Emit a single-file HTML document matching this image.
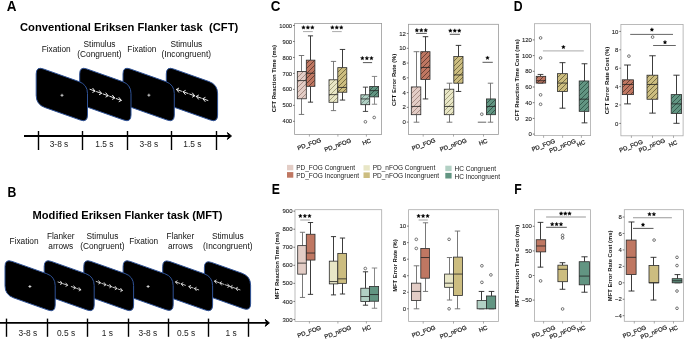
<!DOCTYPE html>
<html><head><meta charset="utf-8"><style>
html,body{margin:0;padding:0;background:#fff;}
body{width:685px;height:339px;overflow:hidden;}
svg{display:block;font-family:"Liberation Sans", sans-serif;will-change:transform;}
text{white-space:pre;}
</style></head><body>
<svg width="685" height="339" viewBox="0 0 685 339">
<defs><pattern id="h_fc" patternUnits="userSpaceOnUse" width="5.0" height="5.0"><rect width="5.0" height="5.0" fill="#e3cdc6"/><path d="M-1,1 L1,-1 M0,5.0 L5.0,0 M4.0,6.0 L6.0,4.0" stroke="#8a6a62" stroke-width="0.65"/></pattern><pattern id="h_fi" patternUnits="userSpaceOnUse" width="5.0" height="5.0"><rect width="5.0" height="5.0" fill="#bf7762"/><path d="M-1,1 L1,-1 M0,5.0 L5.0,0 M4.0,6.0 L6.0,4.0" stroke="#3e221a" stroke-width="0.65"/></pattern><pattern id="h_nc" patternUnits="userSpaceOnUse" width="5.0" height="5.0"><rect width="5.0" height="5.0" fill="#e8e6c6"/><path d="M-1,1 L1,-1 M0,5.0 L5.0,0 M4.0,6.0 L6.0,4.0" stroke="#7f7c56" stroke-width="0.65"/></pattern><pattern id="h_ni" patternUnits="userSpaceOnUse" width="5.0" height="5.0"><rect width="5.0" height="5.0" fill="#ccbd80"/><path d="M-1,1 L1,-1 M0,5.0 L5.0,0 M4.0,6.0 L6.0,4.0" stroke="#4a4220" stroke-width="0.65"/></pattern><pattern id="h_hc" patternUnits="userSpaceOnUse" width="5.0" height="5.0"><rect width="5.0" height="5.0" fill="#b2d0c4"/><path d="M-1,1 L1,-1 M0,5.0 L5.0,0 M4.0,6.0 L6.0,4.0" stroke="#5a7c70" stroke-width="0.65"/></pattern><pattern id="h_hi" patternUnits="userSpaceOnUse" width="5.0" height="5.0"><rect width="5.0" height="5.0" fill="#629582"/><path d="M-1,1 L1,-1 M0,5.0 L5.0,0 M4.0,6.0 L6.0,4.0" stroke="#1c3a30" stroke-width="0.65"/></pattern></defs>
<rect width="685" height="339" fill="#fff"/>
<text x="6.8" y="10.5" font-size="13.9" font-weight="bold" fill="#000" textLength="9.73" lengthAdjust="spacingAndGlyphs">A</text>
<text x="7.5" y="197.2" font-size="13.9" font-weight="bold" fill="#000" textLength="8.83" lengthAdjust="spacingAndGlyphs">B</text>
<text x="270.8" y="10.5" font-size="13.9" font-weight="bold" fill="#000" textLength="9.63" lengthAdjust="spacingAndGlyphs">C</text>
<text x="513.7" y="10.6" font-size="13.9" font-weight="bold" fill="#000" textLength="8.83" lengthAdjust="spacingAndGlyphs">D</text>
<text x="271.7" y="193.6" font-size="13.9" font-weight="bold" fill="#000" textLength="8.16" lengthAdjust="spacingAndGlyphs">E</text>
<text x="514.3" y="193.6" font-size="13.9" font-weight="bold" fill="#000" textLength="7.47" lengthAdjust="spacingAndGlyphs">F</text>
<text x="20.00" y="31.40" font-size="11.2" text-anchor="start" font-weight="bold" fill="#000" >Conventional Eriksen Flanker task&#160;&#160;(CFT)</text>
<text x="56.20" y="51.80" font-size="8.3" text-anchor="middle" font-weight="normal" fill="#111" >Fixation</text>
<text x="99.50" y="46.60" font-size="8.3" text-anchor="middle" font-weight="normal" fill="#111" >Stimulus</text>
<text x="99.50" y="57.00" font-size="8.3" text-anchor="middle" font-weight="normal" fill="#111" >(Congruent)</text>
<text x="141.90" y="51.80" font-size="8.3" text-anchor="middle" font-weight="normal" fill="#111" >Fixation</text>
<text x="186.30" y="46.60" font-size="8.3" text-anchor="middle" font-weight="normal" fill="#111" >Stimulus</text>
<text x="186.30" y="57.00" font-size="8.3" text-anchor="middle" font-weight="normal" fill="#111" >(Incongruent)</text>
<path d="M166.30,73.90 Q166.30,66.40 173.37,68.91 L209.12,81.60 Q217.60,84.61 217.60,93.61 L217.60,115.11 Q217.60,122.61 210.53,120.10 L174.78,107.41 Q166.30,104.40 166.30,95.40 Z" fill="#000" stroke="#2f5296" stroke-width="1.0"/>
<path d="M123.00,73.90 Q123.00,66.40 130.07,68.91 L165.82,81.60 Q174.30,84.61 174.30,93.61 L174.30,115.11 Q174.30,122.61 167.23,120.10 L131.48,107.41 Q123.00,104.40 123.00,95.40 Z" fill="#000" stroke="#2f5296" stroke-width="1.0"/>
<path d="M79.70,73.90 Q79.70,66.40 86.77,68.91 L122.52,81.60 Q131.00,84.61 131.00,93.61 L131.00,115.11 Q131.00,122.61 123.93,120.10 L88.18,107.41 Q79.70,104.40 79.70,95.40 Z" fill="#000" stroke="#2f5296" stroke-width="1.0"/>
<path d="M36.20,73.90 Q36.20,66.40 43.27,68.91 L79.02,81.60 Q87.50,84.61 87.50,93.61 L87.50,115.11 Q87.50,122.61 80.43,120.10 L44.68,107.41 Q36.20,104.40 36.20,95.40 Z" fill="#000" stroke="#2f5296" stroke-width="1.0"/>
<path d="M60.5,95.3 H63.5 M62.0,93.8 V96.8" stroke="#eee" stroke-width="0.8"/>
<g stroke="#f2f2f2" stroke-width="0.95" fill="none" stroke-linecap="round" stroke-linejoin="round"><path d="M90.00,89.31 L95.00,91.09 M92.80,88.31 L95.00,91.09 L92.80,92.31" /><path d="M96.57,91.64 L101.57,93.41 M99.37,90.63 L101.57,93.41 L99.37,94.63" /><path d="M103.14,93.97 L108.14,95.74 M105.94,92.96 L108.14,95.74 L105.94,96.96" /><path d="M109.71,96.29 L114.71,98.06 M112.51,95.28 L114.71,98.06 L112.51,99.28" /><path d="M116.28,98.62 L121.28,100.39 M119.08,97.61 L121.28,100.39 L119.08,101.61" /></g>
<path d="M147.4,95.2 H150.4 M148.9,93.7 V96.7" stroke="#eee" stroke-width="0.8"/>
<g stroke="#f2f2f2" stroke-width="0.95" fill="none" stroke-linecap="round" stroke-linejoin="round"><path d="M181.50,91.18 L176.50,89.42 M178.70,88.19 L176.50,89.42 L178.70,92.19" /><path d="M188.10,93.50 L183.10,91.74 M185.30,90.52 L183.10,91.74 L185.30,94.52" /><path d="M189.70,94.07 L194.70,95.83 M192.50,93.05 L194.70,95.83 L192.50,97.05" /><path d="M201.30,98.15 L196.30,96.39 M198.50,95.16 L196.30,96.39 L198.50,99.16" /><path d="M207.90,100.47 L202.90,98.71 M205.10,97.49 L202.90,98.71 L205.10,101.49" /></g>
<line x1="24.00" y1="136.00" x2="230.00" y2="136.00" stroke="#000" stroke-width="1.9" />
<path d="M231.50,136.00 L227.40,132.60 L228.80,136.00 L227.40,139.40 Z" fill="#000" stroke="#000" stroke-width="1.0" stroke-linejoin="round"/>
<line x1="38.50" y1="131.00" x2="38.50" y2="150.00" stroke="#000" stroke-width="1.4" />
<line x1="82.50" y1="131.00" x2="82.50" y2="150.00" stroke="#000" stroke-width="1.4" />
<line x1="127.50" y1="131.00" x2="127.50" y2="150.00" stroke="#000" stroke-width="1.4" />
<line x1="171.50" y1="131.00" x2="171.50" y2="150.00" stroke="#000" stroke-width="1.4" />
<line x1="216.50" y1="131.00" x2="216.50" y2="150.00" stroke="#000" stroke-width="1.4" />
<text x="59.00" y="146.70" font-size="8.4" text-anchor="middle" font-weight="normal" fill="#222" >3-8 s</text>
<text x="104.40" y="146.70" font-size="8.4" text-anchor="middle" font-weight="normal" fill="#222" >1.5 s</text>
<text x="148.90" y="146.70" font-size="8.4" text-anchor="middle" font-weight="normal" fill="#222" >3-8 s</text>
<text x="192.40" y="146.70" font-size="8.4" text-anchor="middle" font-weight="normal" fill="#222" >1.5 s</text>
<text x="32.60" y="219.20" font-size="11.1" text-anchor="start" font-weight="bold" fill="#000" >Modified Eriksen Flanker task (MFT)</text>
<text x="24.00" y="244.00" font-size="8.3" text-anchor="middle" font-weight="normal" fill="#111" >Fixation</text>
<text x="60.80" y="238.60" font-size="8.3" text-anchor="middle" font-weight="normal" fill="#111" >Flanker</text>
<text x="60.80" y="249.00" font-size="8.3" text-anchor="middle" font-weight="normal" fill="#111" >arrows</text>
<text x="102.40" y="238.60" font-size="8.3" text-anchor="middle" font-weight="normal" fill="#111" >Stimulus</text>
<text x="102.40" y="249.00" font-size="8.3" text-anchor="middle" font-weight="normal" fill="#111" >(Congruent)</text>
<text x="143.70" y="244.00" font-size="8.3" text-anchor="middle" font-weight="normal" fill="#111" >Fixation</text>
<text x="180.40" y="238.60" font-size="8.3" text-anchor="middle" font-weight="normal" fill="#111" >Flanker</text>
<text x="180.40" y="249.00" font-size="8.3" text-anchor="middle" font-weight="normal" fill="#111" >arrows</text>
<text x="227.80" y="238.60" font-size="8.3" text-anchor="middle" font-weight="normal" fill="#111" >Stimulus</text>
<text x="227.80" y="249.00" font-size="8.3" text-anchor="middle" font-weight="normal" fill="#111" >(Incongruent)</text>
<path d="M204.40,267.40 Q204.40,259.90 211.47,262.41 L242.12,273.29 Q250.60,276.30 250.60,285.30 L250.60,303.70 Q250.60,311.20 243.53,308.69 L212.88,297.81 Q204.40,294.80 204.40,285.80 Z" fill="#000" stroke="#2f5296" stroke-width="1.0"/>
<path d="M162.70,266.50 Q162.70,259.00 169.77,261.51 L204.12,273.70 Q212.60,276.71 212.60,285.71 L212.60,305.11 Q212.60,312.61 205.53,310.11 L171.18,297.91 Q162.70,294.90 162.70,285.90 Z" fill="#000" stroke="#2f5296" stroke-width="1.0"/>
<path d="M123.10,266.40 Q123.10,258.90 130.17,261.41 L164.72,273.67 Q173.20,276.69 173.20,285.69 L173.20,304.79 Q173.20,312.29 166.13,309.78 L131.58,297.51 Q123.10,294.50 123.10,285.50 Z" fill="#000" stroke="#2f5296" stroke-width="1.0"/>
<path d="M83.80,266.40 Q83.80,258.90 90.87,261.41 L125.12,273.57 Q133.60,276.58 133.60,285.58 L133.60,304.98 Q133.60,312.48 126.53,309.97 L92.28,297.81 Q83.80,294.80 83.80,285.80 Z" fill="#000" stroke="#2f5296" stroke-width="1.0"/>
<path d="M44.20,266.40 Q44.20,258.90 51.27,261.41 L85.72,273.64 Q94.20,276.65 94.20,285.65 L94.20,305.05 Q94.20,312.55 87.13,310.04 L52.68,297.81 Q44.20,294.80 44.20,285.80 Z" fill="#000" stroke="#2f5296" stroke-width="1.0"/>
<path d="M5.00,266.40 Q5.00,258.90 12.07,261.41 L46.72,273.71 Q55.20,276.72 55.20,285.72 L55.20,305.12 Q55.20,312.62 48.13,310.11 L13.48,297.81 Q5.00,294.80 5.00,285.80 Z" fill="#000" stroke="#2f5296" stroke-width="1.0"/>
<path d="M28.4,286.5 H31.4 M29.9,285.0 V288.0" stroke="#eee" stroke-width="0.8"/>
<g stroke="#f2f2f2" stroke-width="0.8" fill="none" stroke-linecap="round" stroke-linejoin="round"><path d="M58.00,281.98 L62.20,283.42 M60.50,281.24 L62.20,283.42 L60.50,284.44" /><path d="M63.40,283.84 L67.60,285.29 M65.90,283.10 L67.60,285.29 L65.90,286.30" /><path d="M71.30,286.56 L75.50,288.01 M73.80,285.83 L75.50,288.01 L73.80,289.03" /><path d="M76.60,288.39 L80.80,289.84 M79.10,287.65 L80.80,289.84 L79.10,290.85" /></g>
<g stroke="#f2f2f2" stroke-width="0.8" fill="none" stroke-linecap="round" stroke-linejoin="round"><path d="M96.20,281.48 L100.40,282.92 M98.70,280.74 L100.40,282.92 L98.70,283.94" /><path d="M101.70,283.37 L105.90,284.82 M104.20,282.64 L105.90,284.82 L104.20,285.84" /><path d="M107.20,285.27 L111.40,286.72 M109.70,284.53 L111.40,286.72 L109.70,287.73" /><path d="M112.70,287.17 L116.90,288.62 M115.20,286.43 L116.90,288.62 L115.20,289.63" /><path d="M118.20,289.07 L122.40,290.51 M120.70,288.33 L122.40,290.51 L120.70,291.53" /></g>
<path d="M146.6,286.5 H149.6 M148.1,285.0 V288.0" stroke="#eee" stroke-width="0.8"/>
<g stroke="#f2f2f2" stroke-width="0.8" fill="none" stroke-linecap="round" stroke-linejoin="round"><path d="M179.70,283.32 L175.50,281.88 M177.20,280.86 L175.50,281.88 L177.20,284.06" /><path d="M185.40,285.29 L181.20,283.84 M182.90,282.83 L181.20,283.84 L182.90,286.03" /><path d="M193.10,287.95 L188.90,286.50 M190.60,285.49 L188.90,286.50 L190.60,288.69" /><path d="M198.70,289.88 L194.50,288.43 M196.20,287.42 L194.50,288.43 L196.20,290.62" /></g>
<g stroke="#f2f2f2" stroke-width="0.8" fill="none" stroke-linecap="round" stroke-linejoin="round"><path d="M218.70,282.52 L214.50,281.08 M216.20,280.06 L214.50,281.08 L216.20,283.26" /><path d="M224.00,284.35 L219.80,282.90 M221.50,281.89 L219.80,282.90 L221.50,285.09" /><path d="M225.30,284.80 L229.50,286.25 M227.80,284.06 L229.50,286.25 L227.80,287.26" /><path d="M234.70,288.04 L230.50,286.60 M232.20,285.58 L230.50,286.60 L232.20,288.78" /><path d="M240.00,289.87 L235.80,288.42 M237.50,287.41 L235.80,288.42 L237.50,290.61" /></g>
<line x1="0.00" y1="322.90" x2="267.90" y2="322.90" stroke="#000" stroke-width="1.9" />
<path d="M269.40,322.90 L265.30,319.50 L266.70,322.90 L265.30,326.30 Z" fill="#000" stroke="#000" stroke-width="1.0" stroke-linejoin="round"/>
<line x1="6.50" y1="318.60" x2="6.50" y2="336.80" stroke="#000" stroke-width="1.4" />
<line x1="47.50" y1="318.60" x2="47.50" y2="336.80" stroke="#000" stroke-width="1.4" />
<line x1="87.50" y1="318.60" x2="87.50" y2="336.80" stroke="#000" stroke-width="1.4" />
<line x1="128.50" y1="318.60" x2="128.50" y2="336.80" stroke="#000" stroke-width="1.4" />
<line x1="168.50" y1="318.60" x2="168.50" y2="336.80" stroke="#000" stroke-width="1.4" />
<line x1="208.50" y1="318.60" x2="208.50" y2="336.80" stroke="#000" stroke-width="1.4" />
<line x1="248.50" y1="318.60" x2="248.50" y2="336.80" stroke="#000" stroke-width="1.4" />
<text x="27.80" y="336.20" font-size="8.4" text-anchor="middle" font-weight="normal" fill="#222" >3-8 s</text>
<text x="66.00" y="336.20" font-size="8.4" text-anchor="middle" font-weight="normal" fill="#222" >0.5 s</text>
<text x="107.40" y="336.20" font-size="8.4" text-anchor="middle" font-weight="normal" fill="#222" >1 s</text>
<text x="147.90" y="336.20" font-size="8.4" text-anchor="middle" font-weight="normal" fill="#222" >3-8 s</text>
<text x="186.10" y="336.20" font-size="8.4" text-anchor="middle" font-weight="normal" fill="#222" >0.5 s</text>
<text x="231.10" y="336.20" font-size="8.4" text-anchor="middle" font-weight="normal" fill="#222" >1 s</text>
<rect x="294.6" y="23.4" width="87.0" height="111.0" fill="none" stroke="#999" stroke-width="0.8"/>
<line x1="293.00" y1="121.31" x2="294.60" y2="121.31" stroke="#555" stroke-width="0.8" />
<text x="292.10" y="123.41" font-size="5.8" text-anchor="end" fill="#222" stroke="#222" stroke-width="0.1">400</text>
<line x1="293.00" y1="105.34" x2="294.60" y2="105.34" stroke="#555" stroke-width="0.8" />
<text x="292.10" y="107.44" font-size="5.8" text-anchor="end" fill="#222" stroke="#222" stroke-width="0.1">500</text>
<line x1="293.00" y1="89.37" x2="294.60" y2="89.37" stroke="#555" stroke-width="0.8" />
<text x="292.10" y="91.47" font-size="5.8" text-anchor="end" fill="#222" stroke="#222" stroke-width="0.1">600</text>
<line x1="293.00" y1="73.40" x2="294.60" y2="73.40" stroke="#555" stroke-width="0.8" />
<text x="292.10" y="75.50" font-size="5.8" text-anchor="end" fill="#222" stroke="#222" stroke-width="0.1">700</text>
<line x1="293.00" y1="57.43" x2="294.60" y2="57.43" stroke="#555" stroke-width="0.8" />
<text x="292.10" y="59.53" font-size="5.8" text-anchor="end" fill="#222" stroke="#222" stroke-width="0.1">800</text>
<line x1="293.00" y1="41.46" x2="294.60" y2="41.46" stroke="#555" stroke-width="0.8" />
<text x="292.10" y="43.56" font-size="5.8" text-anchor="end" fill="#222" stroke="#222" stroke-width="0.1">900</text>
<line x1="293.00" y1="25.49" x2="294.60" y2="25.49" stroke="#555" stroke-width="0.8" />
<text x="292.10" y="27.59" font-size="5.8" text-anchor="end" fill="#222" stroke="#222" stroke-width="0.1">1000</text>
<text x="275.61" y="78.65" font-size="5.85" text-anchor="middle" font-weight="bold" fill="#111" transform="rotate(-90 275.61 78.65)" textLength="67.1" lengthAdjust="spacingAndGlyphs">CFT Reaction Time (ms)</text>
<path d="M301.50,55.51 V71.48 M301.50,98.79 V114.44 M298.80,55.51 H304.20 M298.80,114.44 H304.20" stroke="#6a6a6a" stroke-width="0.9" fill="none"/>
<rect x="297.30" y="71.48" width="9.00" height="27.31" fill="url(#h_fc)" stroke="#2b2b2b" stroke-width="0.8"/>
<line x1="297.30" y1="80.59" x2="306.30" y2="80.59" stroke="#222" stroke-width="0.8" />
<path d="M310.50,35.87 V60.14 M310.50,86.34 V102.15 M307.92,35.87 H313.08 M307.92,102.15 H313.08" stroke="#262626" stroke-width="0.9" fill="none"/>
<rect x="306.30" y="60.14" width="8.60" height="26.19" fill="url(#h_fi)" stroke="#2b2b2b" stroke-width="0.8"/>
<line x1="306.30" y1="73.24" x2="314.90" y2="73.24" stroke="#222" stroke-width="0.8" />
<path d="M333.50,61.42 V79.79 M333.50,102.31 V110.61 M330.86,61.42 H336.14 M330.86,110.61 H336.14" stroke="#6a6a6a" stroke-width="0.9" fill="none"/>
<rect x="329.00" y="79.79" width="8.80" height="22.52" fill="url(#h_nc)" stroke="#2b2b2b" stroke-width="0.8"/>
<line x1="329.00" y1="94.64" x2="337.80" y2="94.64" stroke="#222" stroke-width="0.8" />
<path d="M342.50,49.45 V67.65 M342.50,92.24 V100.07 M339.80,49.45 H345.20 M339.80,100.07 H345.20" stroke="#262626" stroke-width="0.9" fill="none"/>
<rect x="337.80" y="67.65" width="9.00" height="24.59" fill="url(#h_ni)" stroke="#2b2b2b" stroke-width="0.8"/>
<line x1="337.80" y1="87.45" x2="346.80" y2="87.45" stroke="#222" stroke-width="0.8" />
<path d="M365.50,87.13 V94.80 M365.50,104.70 V111.41 M362.86,87.13 H368.14 M362.86,111.41 H368.14" stroke="#333" stroke-width="0.9" fill="none"/>
<rect x="360.90" y="94.80" width="8.80" height="9.90" fill="url(#h_hc)" stroke="#2b2b2b" stroke-width="0.8"/>
<line x1="360.90" y1="98.95" x2="369.70" y2="98.95" stroke="#222" stroke-width="0.8" />
<path d="M374.50,76.43 V86.50 M374.50,96.88 V104.22 M371.83,76.43 H377.17 M371.83,104.22 H377.17" stroke="#7a7a7a" stroke-width="0.9" fill="none"/>
<rect x="369.70" y="86.50" width="8.90" height="10.38" fill="url(#h_hi)" stroke="#2b2b2b" stroke-width="0.8"/>
<line x1="369.70" y1="90.65" x2="378.60" y2="90.65" stroke="#222" stroke-width="0.8" />
<circle cx="365.40" cy="121.80" r="1.35" fill="none" stroke="#333" stroke-width="0.65"/>
<circle cx="374.20" cy="117.50" r="1.35" fill="none" stroke="#333" stroke-width="0.65"/>
<line x1="303.00" y1="31.60" x2="312.80" y2="31.60" stroke="#a0a0a0" stroke-width="0.9" />
<polygon points="303.45,25.55 304.01,26.73 305.30,26.90 304.35,27.79 304.60,29.08 303.45,28.45 302.30,29.08 302.55,27.79 301.60,26.90 302.89,26.73" fill="#000" stroke="#000" stroke-width="0.35" stroke-linejoin="round"/>
<polygon points="307.90,25.55 308.46,26.73 309.75,26.90 308.80,27.79 309.05,29.08 307.90,28.45 306.75,29.08 307.00,27.79 306.05,26.90 307.34,26.73" fill="#000" stroke="#000" stroke-width="0.35" stroke-linejoin="round"/>
<polygon points="312.35,25.55 312.91,26.73 314.20,26.90 313.25,27.79 313.50,29.08 312.35,28.45 311.20,29.08 311.45,27.79 310.50,26.90 311.79,26.73" fill="#000" stroke="#000" stroke-width="0.35" stroke-linejoin="round"/>
<line x1="332.10" y1="31.60" x2="341.70" y2="31.60" stroke="#a0a0a0" stroke-width="0.9" />
<polygon points="332.35,25.55 332.91,26.73 334.20,26.90 333.25,27.79 333.50,29.08 332.35,28.45 331.20,29.08 331.45,27.79 330.50,26.90 331.79,26.73" fill="#000" stroke="#000" stroke-width="0.35" stroke-linejoin="round"/>
<polygon points="336.80,25.55 337.36,26.73 338.65,26.90 337.70,27.79 337.95,29.08 336.80,28.45 335.65,29.08 335.90,27.79 334.95,26.90 336.24,26.73" fill="#000" stroke="#000" stroke-width="0.35" stroke-linejoin="round"/>
<polygon points="341.25,25.55 341.81,26.73 343.10,26.90 342.15,27.79 342.40,29.08 341.25,28.45 340.10,29.08 340.35,27.79 339.40,26.90 340.69,26.73" fill="#000" stroke="#000" stroke-width="0.35" stroke-linejoin="round"/>
<line x1="362.90" y1="62.60" x2="372.10" y2="62.60" stroke="#444" stroke-width="0.9" />
<polygon points="362.35,56.25 362.91,57.43 364.20,57.60 363.25,58.49 363.50,59.78 362.35,59.15 361.20,59.78 361.45,58.49 360.50,57.60 361.79,57.43" fill="#000" stroke="#000" stroke-width="0.35" stroke-linejoin="round"/>
<polygon points="366.90,56.25 367.46,57.43 368.75,57.60 367.80,58.49 368.05,59.78 366.90,59.15 365.75,59.78 366.00,58.49 365.05,57.60 366.34,57.43" fill="#000" stroke="#000" stroke-width="0.35" stroke-linejoin="round"/>
<polygon points="371.45,56.25 372.01,57.43 373.30,57.60 372.35,58.49 372.60,59.78 371.45,59.15 370.30,59.78 370.55,58.49 369.60,57.60 370.89,57.43" fill="#000" stroke="#000" stroke-width="0.35" stroke-linejoin="round"/>
<line x1="309.40" y1="134.40" x2="309.40" y2="136.60" stroke="#888" stroke-width="0.7" />
<line x1="337.90" y1="134.40" x2="337.90" y2="136.60" stroke="#888" stroke-width="0.7" />
<line x1="366.40" y1="134.40" x2="366.40" y2="136.60" stroke="#888" stroke-width="0.7" />
<text x="309.94" y="146.03" font-size="6.0" text-anchor="middle" fill="#222" stroke="#222" stroke-width="0.22" transform="rotate(-20 309.94 146.03)">PD_FOG</text>
<text x="338.44" y="147.03" font-size="6.0" text-anchor="middle" fill="#222" stroke="#222" stroke-width="0.22" transform="rotate(-20 338.44 147.03)">PD_nFOG</text>
<text x="367.24" y="143.83" font-size="6.0" text-anchor="middle" fill="#222" stroke="#222" stroke-width="0.22" transform="rotate(-20 367.24 143.83)">HC</text>
<rect x="408.4" y="24.3" width="90.10000000000002" height="110.10000000000001" fill="none" stroke="#999" stroke-width="0.8"/>
<line x1="406.80" y1="122.10" x2="408.40" y2="122.10" stroke="#555" stroke-width="0.8" />
<text x="405.90" y="124.20" font-size="6.0" text-anchor="end" fill="#222" stroke="#222" stroke-width="0.1">0</text>
<line x1="406.80" y1="107.34" x2="408.40" y2="107.34" stroke="#555" stroke-width="0.8" />
<text x="405.90" y="109.44" font-size="6.0" text-anchor="end" fill="#222" stroke="#222" stroke-width="0.1">2</text>
<line x1="406.80" y1="92.58" x2="408.40" y2="92.58" stroke="#555" stroke-width="0.8" />
<text x="405.90" y="94.68" font-size="6.0" text-anchor="end" fill="#222" stroke="#222" stroke-width="0.1">4</text>
<line x1="406.80" y1="77.82" x2="408.40" y2="77.82" stroke="#555" stroke-width="0.8" />
<text x="405.90" y="79.92" font-size="6.0" text-anchor="end" fill="#222" stroke="#222" stroke-width="0.1">6</text>
<line x1="406.80" y1="63.06" x2="408.40" y2="63.06" stroke="#555" stroke-width="0.8" />
<text x="405.90" y="65.16" font-size="6.0" text-anchor="end" fill="#222" stroke="#222" stroke-width="0.1">8</text>
<line x1="406.80" y1="48.30" x2="408.40" y2="48.30" stroke="#555" stroke-width="0.8" />
<text x="405.90" y="50.40" font-size="6.0" text-anchor="end" fill="#222" stroke="#222" stroke-width="0.1">10</text>
<line x1="406.80" y1="33.54" x2="408.40" y2="33.54" stroke="#555" stroke-width="0.8" />
<text x="405.90" y="35.64" font-size="6.0" text-anchor="end" fill="#222" stroke="#222" stroke-width="0.1">12</text>
<text x="396.21" y="79.85" font-size="5.85" text-anchor="middle" font-weight="bold" fill="#111" transform="rotate(-90 396.21 79.85)" textLength="52.1" lengthAdjust="spacingAndGlyphs">CFT Error Rate (%)</text>
<path d="M416.50,51.70 V86.95 M416.50,114.70 V122.20 M413.65,51.70 H419.35 M413.65,122.20 H419.35" stroke="#6a6a6a" stroke-width="0.9" fill="none"/>
<rect x="411.30" y="86.95" width="9.50" height="27.75" fill="url(#h_fc)" stroke="#2b2b2b" stroke-width="0.8"/>
<line x1="411.30" y1="106.45" x2="420.80" y2="106.45" stroke="#222" stroke-width="0.8" />
<path d="M425.50,36.70 V51.70 M425.50,79.45 V98.95 M422.74,36.70 H428.26 M422.74,98.95 H428.26" stroke="#262626" stroke-width="0.9" fill="none"/>
<rect x="420.80" y="51.70" width="9.20" height="27.75" fill="url(#h_fi)" stroke="#2b2b2b" stroke-width="0.8"/>
<line x1="420.80" y1="67.45" x2="430.00" y2="67.45" stroke="#222" stroke-width="0.8" />
<path d="M449.50,83.20 V89.20 M449.50,114.70 V122.20 M446.65,83.20 H452.35 M446.65,122.20 H452.35" stroke="#6a6a6a" stroke-width="0.9" fill="none"/>
<rect x="444.30" y="89.20" width="9.50" height="25.50" fill="url(#h_nc)" stroke="#2b2b2b" stroke-width="0.8"/>
<line x1="444.30" y1="106.45" x2="453.80" y2="106.45" stroke="#222" stroke-width="0.8" />
<path d="M458.50,45.40 V56.58 M458.50,83.20 V91.45 M455.74,45.40 H461.26 M455.74,91.45 H461.26" stroke="#262626" stroke-width="0.9" fill="none"/>
<rect x="453.80" y="56.58" width="9.20" height="26.62" fill="url(#h_ni)" stroke="#2b2b2b" stroke-width="0.8"/>
<line x1="453.80" y1="74.95" x2="463.00" y2="74.95" stroke="#222" stroke-width="0.8" />
<line x1="477.80" y1="122.20" x2="486.20" y2="122.20" stroke="#555" stroke-width="0.9" />
<path d="M490.50,83.20 V98.95 M490.50,114.70 V122.20 M487.77,83.20 H493.23 M487.77,122.20 H493.23" stroke="#6a6a6a" stroke-width="0.9" fill="none"/>
<rect x="486.40" y="98.95" width="9.10" height="15.75" fill="url(#h_hi)" stroke="#2b2b2b" stroke-width="0.8"/>
<line x1="486.40" y1="106.45" x2="495.50" y2="106.45" stroke="#222" stroke-width="0.8" />
<circle cx="481.80" cy="114.20" r="1.35" fill="none" stroke="#333" stroke-width="0.65"/>
<line x1="416.00" y1="33.40" x2="426.80" y2="33.40" stroke="#444" stroke-width="0.9" />
<polygon points="416.85,28.35 417.41,29.53 418.70,29.70 417.75,30.59 418.00,31.88 416.85,31.25 415.70,31.88 415.95,30.59 415.00,29.70 416.29,29.53" fill="#000" stroke="#000" stroke-width="0.35" stroke-linejoin="round"/>
<polygon points="421.30,28.35 421.86,29.53 423.15,29.70 422.20,30.59 422.45,31.88 421.30,31.25 420.15,31.88 420.40,30.59 419.45,29.70 420.74,29.53" fill="#000" stroke="#000" stroke-width="0.35" stroke-linejoin="round"/>
<polygon points="425.75,28.35 426.31,29.53 427.60,29.70 426.65,30.59 426.90,31.88 425.75,31.25 424.60,31.88 424.85,30.59 423.90,29.70 425.19,29.53" fill="#000" stroke="#000" stroke-width="0.35" stroke-linejoin="round"/>
<line x1="449.80" y1="34.30" x2="459.90" y2="34.30" stroke="#444" stroke-width="0.9" />
<polygon points="450.35,28.75 450.91,29.93 452.20,30.10 451.25,30.99 451.50,32.28 450.35,31.65 449.20,32.28 449.45,30.99 448.50,30.10 449.79,29.93" fill="#000" stroke="#000" stroke-width="0.35" stroke-linejoin="round"/>
<polygon points="454.80,28.75 455.36,29.93 456.65,30.10 455.70,30.99 455.95,32.28 454.80,31.65 453.65,32.28 453.90,30.99 452.95,30.10 454.24,29.93" fill="#000" stroke="#000" stroke-width="0.35" stroke-linejoin="round"/>
<polygon points="459.25,28.75 459.81,29.93 461.10,30.10 460.15,30.99 460.40,32.28 459.25,31.65 458.10,32.28 458.35,30.99 457.40,30.10 458.69,29.93" fill="#000" stroke="#000" stroke-width="0.35" stroke-linejoin="round"/>
<line x1="482.50" y1="62.30" x2="492.80" y2="62.30" stroke="#444" stroke-width="0.9" />
<polygon points="487.50,55.95 488.06,57.13 489.35,57.30 488.40,58.19 488.65,59.48 487.50,58.85 486.35,59.48 486.60,58.19 485.65,57.30 486.94,57.13" fill="#000" stroke="#000" stroke-width="0.35" stroke-linejoin="round"/>
<line x1="423.20" y1="134.40" x2="423.20" y2="136.60" stroke="#888" stroke-width="0.7" />
<line x1="453.50" y1="134.40" x2="453.50" y2="136.60" stroke="#888" stroke-width="0.7" />
<line x1="483.50" y1="134.40" x2="483.50" y2="136.60" stroke="#888" stroke-width="0.7" />
<text x="424.34" y="146.23" font-size="6.0" text-anchor="middle" fill="#222" stroke="#222" stroke-width="0.22" transform="rotate(-20 424.34 146.23)">PD_FOG</text>
<text x="453.94" y="146.83" font-size="6.0" text-anchor="middle" fill="#222" stroke="#222" stroke-width="0.22" transform="rotate(-20 453.94 146.83)">PD_nFOG</text>
<text x="483.84" y="144.03" font-size="6.0" text-anchor="middle" fill="#222" stroke="#222" stroke-width="0.22" transform="rotate(-20 483.84 144.03)">HC</text>
<rect x="534.4" y="23.7" width="56.200000000000045" height="111.89999999999999" fill="none" stroke="#aaa" stroke-width="0.8"/>
<line x1="532.80" y1="134.10" x2="534.40" y2="134.10" stroke="#555" stroke-width="0.8" />
<text x="531.90" y="136.20" font-size="6.0" text-anchor="end" fill="#222" stroke="#222" stroke-width="0.1">0</text>
<line x1="532.80" y1="118.40" x2="534.40" y2="118.40" stroke="#555" stroke-width="0.8" />
<text x="531.90" y="120.50" font-size="6.0" text-anchor="end" fill="#222" stroke="#222" stroke-width="0.1">20</text>
<line x1="532.80" y1="102.70" x2="534.40" y2="102.70" stroke="#555" stroke-width="0.8" />
<text x="531.90" y="104.80" font-size="6.0" text-anchor="end" fill="#222" stroke="#222" stroke-width="0.1">40</text>
<line x1="532.80" y1="87.00" x2="534.40" y2="87.00" stroke="#555" stroke-width="0.8" />
<text x="531.90" y="89.10" font-size="6.0" text-anchor="end" fill="#222" stroke="#222" stroke-width="0.1">60</text>
<line x1="532.80" y1="71.30" x2="534.40" y2="71.30" stroke="#555" stroke-width="0.8" />
<text x="531.90" y="73.40" font-size="6.0" text-anchor="end" fill="#222" stroke="#222" stroke-width="0.1">80</text>
<line x1="532.80" y1="55.60" x2="534.40" y2="55.60" stroke="#555" stroke-width="0.8" />
<text x="531.90" y="57.70" font-size="6.0" text-anchor="end" fill="#222" stroke="#222" stroke-width="0.1">100</text>
<line x1="532.80" y1="39.90" x2="534.40" y2="39.90" stroke="#555" stroke-width="0.8" />
<text x="531.90" y="42.00" font-size="6.0" text-anchor="end" fill="#222" stroke="#222" stroke-width="0.1">120</text>
<text x="518.81" y="80.10" font-size="5.85" text-anchor="middle" font-weight="bold" fill="#111" transform="rotate(-90 518.81 80.10)" textLength="81.4" lengthAdjust="spacingAndGlyphs">CFT Reaction Time Cost (ms)</text>
<path d="M540.50,74.44 V76.32 M540.50,83.07 V83.07 M537.65,74.44 H543.35 M537.65,83.07 H543.35" stroke="#333" stroke-width="0.9" fill="none"/>
<rect x="536.20" y="76.32" width="9.50" height="6.75" fill="url(#h_fi)" stroke="#2b2b2b" stroke-width="0.8"/>
<line x1="536.20" y1="80.72" x2="545.70" y2="80.72" stroke="#222" stroke-width="0.8" />
<path d="M562.50,62.66 V73.66 M562.50,91.40 V108.19 M559.53,62.66 H565.47 M559.53,108.19 H565.47" stroke="#262626" stroke-width="0.9" fill="none"/>
<rect x="557.50" y="73.66" width="9.90" height="17.74" fill="url(#h_ni)" stroke="#2b2b2b" stroke-width="0.8"/>
<line x1="557.50" y1="83.07" x2="567.40" y2="83.07" stroke="#222" stroke-width="0.8" />
<path d="M584.50,63.76 V80.96 M584.50,111.33 V122.87 M581.59,63.76 H587.41 M581.59,122.87 H587.41" stroke="#262626" stroke-width="0.9" fill="none"/>
<rect x="579.20" y="80.96" width="9.70" height="30.38" fill="url(#h_hi)" stroke="#2b2b2b" stroke-width="0.8"/>
<line x1="579.20" y1="99.17" x2="588.90" y2="99.17" stroke="#222" stroke-width="0.8" />
<circle cx="540.60" cy="37.94" r="1.35" fill="none" stroke="#333" stroke-width="0.65"/>
<circle cx="540.60" cy="57.95" r="1.35" fill="none" stroke="#333" stroke-width="0.65"/>
<circle cx="540.60" cy="94.85" r="1.35" fill="none" stroke="#333" stroke-width="0.65"/>
<circle cx="540.60" cy="104.27" r="1.35" fill="none" stroke="#333" stroke-width="0.65"/>
<line x1="542.90" y1="50.90" x2="583.80" y2="50.90" stroke="#bbb" stroke-width="1.4" />
<polygon points="563.40,45.15 563.96,46.33 565.25,46.50 564.30,47.39 564.55,48.68 563.40,48.05 562.25,48.68 562.50,47.39 561.55,46.50 562.84,46.33" fill="#000" stroke="#000" stroke-width="0.35" stroke-linejoin="round"/>
<line x1="543.60" y1="135.60" x2="543.60" y2="137.80" stroke="#888" stroke-width="0.7" />
<line x1="562.60" y1="135.60" x2="562.60" y2="137.80" stroke="#888" stroke-width="0.7" />
<line x1="581.40" y1="135.60" x2="581.40" y2="137.80" stroke="#888" stroke-width="0.7" />
<text x="544.11" y="147.00" font-size="6.0" text-anchor="middle" fill="#222" stroke="#222" stroke-width="0.22" transform="rotate(-22 544.11 147.00)">PD_FOG</text>
<text x="563.31" y="147.70" font-size="6.0" text-anchor="middle" fill="#222" stroke="#222" stroke-width="0.22" transform="rotate(-22 563.31 147.70)">PD_nFOG</text>
<text x="581.81" y="145.30" font-size="6.0" text-anchor="middle" fill="#222" stroke="#222" stroke-width="0.22" transform="rotate(-22 581.81 145.30)">HC</text>
<rect x="620.9" y="24.5" width="62.200000000000045" height="111.30000000000001" fill="none" stroke="#aaa" stroke-width="0.8"/>
<line x1="619.30" y1="123.40" x2="620.90" y2="123.40" stroke="#555" stroke-width="0.8" />
<text x="618.40" y="125.50" font-size="6.0" text-anchor="end" fill="#222" stroke="#222" stroke-width="0.1">0</text>
<line x1="619.30" y1="105.00" x2="620.90" y2="105.00" stroke="#555" stroke-width="0.8" />
<text x="618.40" y="107.10" font-size="6.0" text-anchor="end" fill="#222" stroke="#222" stroke-width="0.1">2</text>
<line x1="619.30" y1="86.60" x2="620.90" y2="86.60" stroke="#555" stroke-width="0.8" />
<text x="618.40" y="88.70" font-size="6.0" text-anchor="end" fill="#222" stroke="#222" stroke-width="0.1">4</text>
<line x1="619.30" y1="68.20" x2="620.90" y2="68.20" stroke="#555" stroke-width="0.8" />
<text x="618.40" y="70.30" font-size="6.0" text-anchor="end" fill="#222" stroke="#222" stroke-width="0.1">6</text>
<line x1="619.30" y1="49.80" x2="620.90" y2="49.80" stroke="#555" stroke-width="0.8" />
<text x="618.40" y="51.90" font-size="6.0" text-anchor="end" fill="#222" stroke="#222" stroke-width="0.1">8</text>
<line x1="619.30" y1="31.40" x2="620.90" y2="31.40" stroke="#555" stroke-width="0.8" />
<text x="618.40" y="33.50" font-size="6.0" text-anchor="end" fill="#222" stroke="#222" stroke-width="0.1">10</text>
<text x="608.61" y="80.50" font-size="5.85" text-anchor="middle" font-weight="bold" fill="#111" transform="rotate(-90 608.61 80.50)" textLength="67.4" lengthAdjust="spacingAndGlyphs">CFT Error Rate Cost (%)</text>
<path d="M627.50,65.03 V79.82 M627.50,94.62 V103.88 M624.11,65.03 H630.89 M624.11,103.88 H630.89" stroke="#262626" stroke-width="0.9" fill="none"/>
<rect x="622.30" y="79.82" width="11.30" height="14.80" fill="url(#h_fi)" stroke="#2b2b2b" stroke-width="0.8"/>
<line x1="622.30" y1="84.45" x2="633.60" y2="84.45" stroke="#222" stroke-width="0.8" />
<path d="M652.50,55.78 V75.20 M652.50,99.25 V113.12 M649.26,55.78 H655.74 M649.26,113.12 H655.74" stroke="#262626" stroke-width="0.9" fill="none"/>
<rect x="647.00" y="75.20" width="10.80" height="24.05" fill="url(#h_ni)" stroke="#2b2b2b" stroke-width="0.8"/>
<line x1="647.00" y1="84.45" x2="657.80" y2="84.45" stroke="#222" stroke-width="0.8" />
<path d="M676.50,75.20 V94.62 M676.50,113.40 V123.30 M673.38,75.20 H679.62 M673.38,123.30 H679.62" stroke="#262626" stroke-width="0.9" fill="none"/>
<rect x="671.20" y="94.62" width="10.40" height="18.78" fill="url(#h_hi)" stroke="#2b2b2b" stroke-width="0.8"/>
<line x1="671.20" y1="103.88" x2="681.60" y2="103.88" stroke="#222" stroke-width="0.8" />
<circle cx="628.90" cy="56.10" r="1.35" fill="none" stroke="#333" stroke-width="0.65"/>
<circle cx="652.60" cy="37.10" r="1.35" fill="none" stroke="#333" stroke-width="0.65"/>
<line x1="630.20" y1="34.40" x2="673.00" y2="34.40" stroke="#555" stroke-width="0.9" />
<polygon points="651.90,27.75 652.46,28.93 653.75,29.10 652.80,29.99 653.05,31.28 651.90,30.65 650.75,31.28 651.00,29.99 650.05,29.10 651.34,28.93" fill="#000" stroke="#000" stroke-width="0.35" stroke-linejoin="round"/>
<line x1="653.10" y1="45.50" x2="675.80" y2="45.50" stroke="#555" stroke-width="0.9" />
<polygon points="665.00,40.35 665.56,41.53 666.85,41.70 665.90,42.59 666.15,43.88 665.00,43.25 663.85,43.88 664.10,42.59 663.15,41.70 664.44,41.53" fill="#000" stroke="#000" stroke-width="0.35" stroke-linejoin="round"/>
<line x1="631.40" y1="135.70" x2="631.40" y2="137.90" stroke="#888" stroke-width="0.7" />
<line x1="652.50" y1="135.70" x2="652.50" y2="137.90" stroke="#888" stroke-width="0.7" />
<line x1="673.50" y1="135.70" x2="673.50" y2="137.90" stroke="#888" stroke-width="0.7" />
<text x="631.81" y="147.80" font-size="6.0" text-anchor="middle" fill="#222" stroke="#222" stroke-width="0.22" transform="rotate(-22 631.81 147.80)">PD_FOG</text>
<text x="652.71" y="147.20" font-size="6.0" text-anchor="middle" fill="#222" stroke="#222" stroke-width="0.22" transform="rotate(-22 652.71 147.20)">PD_nFOG</text>
<text x="673.81" y="145.60" font-size="6.0" text-anchor="middle" fill="#222" stroke="#222" stroke-width="0.22" transform="rotate(-22 673.81 145.60)">HC</text>
<rect x="287" y="164.9" width="6.3" height="5.4" fill="#e3cdc6"/>
<rect x="287" y="172.1" width="6.3" height="5.6" fill="#bf7762"/>
<text x="296.20" y="169.70" font-size="6.5" text-anchor="start" font-weight="normal" fill="#222" >PD_FOG Congruent</text>
<text x="296.20" y="177.90" font-size="6.5" text-anchor="start" font-weight="normal" fill="#222" >PD_FOG Incongruent</text>
<rect x="363.5" y="165.20000000000002" width="6.3" height="5.4" fill="#e8e6c6"/>
<rect x="363.5" y="172.4" width="6.3" height="5.6" fill="#ccbd80"/>
<text x="372.70" y="170.00" font-size="6.5" text-anchor="start" font-weight="normal" fill="#222" >PD_nFOG Congruent</text>
<text x="372.70" y="178.20" font-size="6.5" text-anchor="start" font-weight="normal" fill="#222" >PD_nFOG Incongruent</text>
<rect x="445.3" y="165.70000000000002" width="6.3" height="5.4" fill="#b2d0c4"/>
<rect x="445.3" y="172.9" width="6.3" height="5.6" fill="#629582"/>
<text x="454.50" y="170.50" font-size="6.5" text-anchor="start" font-weight="normal" fill="#222" >HC Congruent</text>
<text x="454.50" y="178.70" font-size="6.5" text-anchor="start" font-weight="normal" fill="#222" >HC Incongruent</text>
<rect x="295.0" y="209.7" width="86.69999999999999" height="111.69999999999999" fill="none" stroke="#aaa" stroke-width="0.8"/>
<line x1="293.40" y1="319.45" x2="295.00" y2="319.45" stroke="#555" stroke-width="0.8" />
<text x="292.50" y="321.55" font-size="6.0" text-anchor="end" fill="#222" stroke="#222" stroke-width="0.1">300</text>
<line x1="293.40" y1="301.40" x2="295.00" y2="301.40" stroke="#555" stroke-width="0.8" />
<text x="292.50" y="303.50" font-size="6.0" text-anchor="end" fill="#222" stroke="#222" stroke-width="0.1">400</text>
<line x1="293.40" y1="283.35" x2="295.00" y2="283.35" stroke="#555" stroke-width="0.8" />
<text x="292.50" y="285.45" font-size="6.0" text-anchor="end" fill="#222" stroke="#222" stroke-width="0.1">500</text>
<line x1="293.40" y1="265.30" x2="295.00" y2="265.30" stroke="#555" stroke-width="0.8" />
<text x="292.50" y="267.40" font-size="6.0" text-anchor="end" fill="#222" stroke="#222" stroke-width="0.1">600</text>
<line x1="293.40" y1="247.25" x2="295.00" y2="247.25" stroke="#555" stroke-width="0.8" />
<text x="292.50" y="249.35" font-size="6.0" text-anchor="end" fill="#222" stroke="#222" stroke-width="0.1">700</text>
<line x1="293.40" y1="229.20" x2="295.00" y2="229.20" stroke="#555" stroke-width="0.8" />
<text x="292.50" y="231.30" font-size="6.0" text-anchor="end" fill="#222" stroke="#222" stroke-width="0.1">800</text>
<line x1="293.40" y1="211.15" x2="295.00" y2="211.15" stroke="#555" stroke-width="0.8" />
<text x="292.50" y="213.25" font-size="6.0" text-anchor="end" fill="#222" stroke="#222" stroke-width="0.1">900</text>
<text x="279.01" y="265.85" font-size="5.85" text-anchor="middle" font-weight="bold" fill="#111" transform="rotate(-90 279.01 265.85)" textLength="67.5" lengthAdjust="spacingAndGlyphs">MFT Reaction Time (ms)</text>
<path d="M302.50,232.27 V245.63 M302.50,274.14 V297.43 M299.92,232.27 H305.08 M299.92,297.43 H305.08" stroke="#6a6a6a" stroke-width="0.9" fill="none"/>
<rect x="297.70" y="245.63" width="8.60" height="28.52" fill="#e3cdc6" stroke="#2b2b2b" stroke-width="0.8"/>
<line x1="297.70" y1="263.13" x2="306.30" y2="263.13" stroke="#222" stroke-width="0.8" />
<path d="M310.50,222.52 V234.25 M310.50,260.07 V294.36 M307.89,222.52 H313.11 M307.89,294.36 H313.11" stroke="#262626" stroke-width="0.9" fill="none"/>
<rect x="306.30" y="234.25" width="8.70" height="25.81" fill="#bf7762" stroke="#2b2b2b" stroke-width="0.8"/>
<line x1="306.30" y1="253.03" x2="315.00" y2="253.03" stroke="#222" stroke-width="0.8" />
<path d="M333.50,236.60 V261.15 M333.50,283.89 V294.90 M330.95,236.60 H336.05 M330.95,294.90 H336.05" stroke="#262626" stroke-width="0.9" fill="none"/>
<rect x="329.30" y="261.15" width="8.50" height="22.74" fill="#e8e6c6" stroke="#2b2b2b" stroke-width="0.8"/>
<line x1="329.30" y1="281.55" x2="337.80" y2="281.55" stroke="#222" stroke-width="0.8" />
<path d="M342.50,238.04 V253.39 M342.50,283.35 V294.00 M339.89,238.04 H345.11 M339.89,294.00 H345.11" stroke="#262626" stroke-width="0.9" fill="none"/>
<rect x="337.80" y="253.39" width="8.70" height="29.96" fill="#ccbd80" stroke="#2b2b2b" stroke-width="0.8"/>
<line x1="337.80" y1="278.84" x2="346.50" y2="278.84" stroke="#222" stroke-width="0.8" />
<path d="M365.50,271.80 V288.22 M365.50,301.58 V305.19 M362.89,271.80 H368.11 M362.89,305.19 H368.11" stroke="#262626" stroke-width="0.9" fill="none"/>
<rect x="360.80" y="288.22" width="8.70" height="13.36" fill="#b2d0c4" stroke="#2b2b2b" stroke-width="0.8"/>
<line x1="360.80" y1="296.53" x2="369.50" y2="296.53" stroke="#222" stroke-width="0.8" />
<path d="M374.50,268.01 V286.42 M374.50,301.22 V308.26 M371.77,268.01 H377.23 M371.77,308.26 H377.23" stroke="#7a7a7a" stroke-width="0.9" fill="none"/>
<rect x="369.50" y="286.42" width="9.10" height="14.80" fill="#629582" stroke="#2b2b2b" stroke-width="0.8"/>
<line x1="369.50" y1="294.54" x2="378.60" y2="294.54" stroke="#222" stroke-width="0.8" />
<circle cx="365.30" cy="268.50" r="1.35" fill="none" stroke="#333" stroke-width="0.65"/>
<line x1="300.20" y1="220.00" x2="309.90" y2="220.00" stroke="#aaa" stroke-width="1.1" />
<polygon points="300.35,214.05 300.91,215.23 302.20,215.40 301.25,216.29 301.50,217.58 300.35,216.95 299.20,217.58 299.45,216.29 298.50,215.40 299.79,215.23" fill="#000" stroke="#000" stroke-width="0.35" stroke-linejoin="round"/>
<polygon points="304.90,214.05 305.46,215.23 306.75,215.40 305.80,216.29 306.05,217.58 304.90,216.95 303.75,217.58 304.00,216.29 303.05,215.40 304.34,215.23" fill="#000" stroke="#000" stroke-width="0.35" stroke-linejoin="round"/>
<polygon points="309.45,214.05 310.01,215.23 311.30,215.40 310.35,216.29 310.60,217.58 309.45,216.95 308.30,217.58 308.55,216.29 307.60,215.40 308.89,215.23" fill="#000" stroke="#000" stroke-width="0.35" stroke-linejoin="round"/>
<line x1="309.40" y1="321.30" x2="309.40" y2="323.50" stroke="#888" stroke-width="0.7" />
<line x1="337.90" y1="321.30" x2="337.90" y2="323.50" stroke="#888" stroke-width="0.7" />
<line x1="366.40" y1="321.30" x2="366.40" y2="323.50" stroke="#888" stroke-width="0.7" />
<text x="309.84" y="333.53" font-size="6.0" text-anchor="middle" fill="#222" stroke="#222" stroke-width="0.22" transform="rotate(-20 309.84 333.53)">PD_FOG</text>
<text x="338.54" y="334.03" font-size="6.0" text-anchor="middle" fill="#222" stroke="#222" stroke-width="0.22" transform="rotate(-20 338.54 334.03)">PD_nFOG</text>
<text x="367.34" y="330.23" font-size="6.0" text-anchor="middle" fill="#222" stroke="#222" stroke-width="0.22" transform="rotate(-20 367.34 330.23)">HC</text>
<rect x="408.6" y="209.7" width="89.89999999999998" height="111.80000000000001" fill="none" stroke="#aaa" stroke-width="0.8"/>
<line x1="407.00" y1="308.80" x2="408.60" y2="308.80" stroke="#555" stroke-width="0.8" />
<text x="406.10" y="310.90" font-size="6.0" text-anchor="end" fill="#222" stroke="#222" stroke-width="0.1">0</text>
<line x1="407.00" y1="292.26" x2="408.60" y2="292.26" stroke="#555" stroke-width="0.8" />
<text x="406.10" y="294.36" font-size="6.0" text-anchor="end" fill="#222" stroke="#222" stroke-width="0.1">2</text>
<line x1="407.00" y1="275.72" x2="408.60" y2="275.72" stroke="#555" stroke-width="0.8" />
<text x="406.10" y="277.82" font-size="6.0" text-anchor="end" fill="#222" stroke="#222" stroke-width="0.1">4</text>
<line x1="407.00" y1="259.18" x2="408.60" y2="259.18" stroke="#555" stroke-width="0.8" />
<text x="406.10" y="261.28" font-size="6.0" text-anchor="end" fill="#222" stroke="#222" stroke-width="0.1">6</text>
<line x1="407.00" y1="242.64" x2="408.60" y2="242.64" stroke="#555" stroke-width="0.8" />
<text x="406.10" y="244.74" font-size="6.0" text-anchor="end" fill="#222" stroke="#222" stroke-width="0.1">8</text>
<line x1="407.00" y1="226.10" x2="408.60" y2="226.10" stroke="#555" stroke-width="0.8" />
<text x="406.10" y="228.20" font-size="6.0" text-anchor="end" fill="#222" stroke="#222" stroke-width="0.1">10</text>
<text x="396.61" y="265.55" font-size="5.85" text-anchor="middle" font-weight="bold" fill="#111" transform="rotate(-90 396.61 265.55)" textLength="52.5" lengthAdjust="spacingAndGlyphs">MFT Error Rate (%)</text>
<path d="M416.50,265.80 V283.16 M416.50,300.53 V308.80 M413.71,265.80 H419.29 M413.71,308.80 H419.29" stroke="#6a6a6a" stroke-width="0.9" fill="none"/>
<rect x="411.50" y="283.16" width="9.30" height="17.37" fill="#e3cdc6" stroke="#2b2b2b" stroke-width="0.8"/>
<line x1="411.50" y1="291.43" x2="420.80" y2="291.43" stroke="#222" stroke-width="0.8" />
<path d="M425.50,222.79 V248.43 M425.50,278.20 V291.43 M422.89,222.79 H428.11 M422.89,291.43 H428.11" stroke="#6a6a6a" stroke-width="0.9" fill="none"/>
<rect x="420.80" y="248.43" width="8.70" height="29.77" fill="#bf7762" stroke="#2b2b2b" stroke-width="0.8"/>
<line x1="420.80" y1="257.53" x2="429.50" y2="257.53" stroke="#222" stroke-width="0.8" />
<path d="M449.50,257.53 V274.07 M449.50,287.30 V300.03 M446.86,257.53 H452.14 M446.86,300.03 H452.14" stroke="#6a6a6a" stroke-width="0.9" fill="none"/>
<rect x="444.60" y="274.07" width="8.80" height="13.23" fill="#e8e6c6" stroke="#2b2b2b" stroke-width="0.8"/>
<line x1="444.60" y1="283.16" x2="453.40" y2="283.16" stroke="#222" stroke-width="0.8" />
<path d="M457.50,231.06 V257.11 M457.50,295.57 V308.80 M454.77,231.06 H460.23 M454.77,308.80 H460.23" stroke="#6a6a6a" stroke-width="0.9" fill="none"/>
<rect x="453.40" y="257.11" width="9.10" height="38.46" fill="#ccbd80" stroke="#2b2b2b" stroke-width="0.8"/>
<line x1="453.40" y1="274.07" x2="462.50" y2="274.07" stroke="#222" stroke-width="0.8" />
<path d="M481.50,291.43 V300.53 M481.50,308.80 V308.80 M478.71,291.43 H484.29 M478.71,308.80 H484.29" stroke="#262626" stroke-width="0.9" fill="none"/>
<rect x="477.10" y="300.53" width="9.30" height="8.27" fill="#b2d0c4" stroke="#2b2b2b" stroke-width="0.8"/>
<path d="M491.50,291.43 V295.98 M491.50,308.80 V308.80 M488.71,291.43 H494.29 M488.71,308.80 H494.29" stroke="#262626" stroke-width="0.9" fill="none"/>
<rect x="486.40" y="295.98" width="9.30" height="12.82" fill="#629582" stroke="#2b2b2b" stroke-width="0.8"/>
<circle cx="416.30" cy="239.33" r="1.35" fill="none" stroke="#333" stroke-width="0.65"/>
<circle cx="416.30" cy="248.43" r="1.35" fill="none" stroke="#333" stroke-width="0.65"/>
<circle cx="449.10" cy="239.33" r="1.35" fill="none" stroke="#333" stroke-width="0.65"/>
<circle cx="449.10" cy="308.80" r="1.35" fill="none" stroke="#333" stroke-width="0.65"/>
<circle cx="481.90" cy="265.80" r="1.35" fill="none" stroke="#333" stroke-width="0.65"/>
<circle cx="481.90" cy="282.34" r="1.35" fill="none" stroke="#333" stroke-width="0.65"/>
<circle cx="490.90" cy="274.89" r="1.35" fill="none" stroke="#333" stroke-width="0.65"/>
<line x1="418.60" y1="220.00" x2="427.80" y2="220.00" stroke="#aaa" stroke-width="1.1" />
<polygon points="418.60,214.05 419.16,215.23 420.45,215.40 419.50,216.29 419.75,217.58 418.60,216.95 417.45,217.58 417.70,216.29 416.75,215.40 418.04,215.23" fill="#000" stroke="#000" stroke-width="0.35" stroke-linejoin="round"/>
<polygon points="423.10,214.05 423.66,215.23 424.95,215.40 424.00,216.29 424.25,217.58 423.10,216.95 421.95,217.58 422.20,216.29 421.25,215.40 422.54,215.23" fill="#000" stroke="#000" stroke-width="0.35" stroke-linejoin="round"/>
<polygon points="427.60,214.05 428.16,215.23 429.45,215.40 428.50,216.29 428.75,217.58 427.60,216.95 426.45,217.58 426.70,216.29 425.75,215.40 427.04,215.23" fill="#000" stroke="#000" stroke-width="0.35" stroke-linejoin="round"/>
<line x1="423.20" y1="321.40" x2="423.20" y2="323.60" stroke="#888" stroke-width="0.7" />
<line x1="453.50" y1="321.40" x2="453.50" y2="323.60" stroke="#888" stroke-width="0.7" />
<line x1="483.50" y1="321.40" x2="483.50" y2="323.60" stroke="#888" stroke-width="0.7" />
<text x="424.34" y="333.33" font-size="6.0" text-anchor="middle" fill="#222" stroke="#222" stroke-width="0.22" transform="rotate(-20 424.34 333.33)">PD_FOG</text>
<text x="453.94" y="334.03" font-size="6.0" text-anchor="middle" fill="#222" stroke="#222" stroke-width="0.22" transform="rotate(-20 453.94 334.03)">PD_nFOG</text>
<text x="483.84" y="330.83" font-size="6.0" text-anchor="middle" fill="#222" stroke="#222" stroke-width="0.22" transform="rotate(-20 483.84 330.83)">HC</text>
<rect x="534.4" y="209.7" width="56.10000000000002" height="111.60000000000002" fill="none" stroke="#aaa" stroke-width="0.8"/>
<line x1="532.80" y1="300.10" x2="534.40" y2="300.10" stroke="#555" stroke-width="0.8" />
<text x="531.90" y="302.20" font-size="6.0" text-anchor="end" fill="#222" stroke="#222" stroke-width="0.1">&#8722;50</text>
<line x1="532.80" y1="275.50" x2="534.40" y2="275.50" stroke="#555" stroke-width="0.8" />
<text x="531.90" y="277.60" font-size="6.0" text-anchor="end" fill="#222" stroke="#222" stroke-width="0.1">0</text>
<line x1="532.80" y1="250.90" x2="534.40" y2="250.90" stroke="#555" stroke-width="0.8" />
<text x="531.90" y="253.00" font-size="6.0" text-anchor="end" fill="#222" stroke="#222" stroke-width="0.1">50</text>
<line x1="532.80" y1="226.30" x2="534.40" y2="226.30" stroke="#555" stroke-width="0.8" />
<text x="531.90" y="228.40" font-size="6.0" text-anchor="end" fill="#222" stroke="#222" stroke-width="0.1">100</text>
<text x="518.81" y="265.90" font-size="5.85" text-anchor="middle" font-weight="bold" fill="#111" transform="rotate(-90 518.81 265.90)" textLength="82.4" lengthAdjust="spacingAndGlyphs">MFT Reaction Time Cost (ms)</text>
<path d="M540.50,222.36 V239.73 M540.50,251.88 V267.14 M537.65,222.36 H543.35 M537.65,267.14 H543.35" stroke="#262626" stroke-width="0.9" fill="none"/>
<rect x="536.20" y="239.73" width="9.50" height="12.15" fill="#bf7762" stroke="#2b2b2b" stroke-width="0.8"/>
<line x1="536.20" y1="245.98" x2="545.70" y2="245.98" stroke="#222" stroke-width="0.8" />
<path d="M562.50,262.71 V265.17 M562.50,281.70 V289.28 M559.65,262.71 H565.35 M559.65,289.28 H565.35" stroke="#262626" stroke-width="0.9" fill="none"/>
<rect x="557.90" y="265.17" width="9.50" height="16.53" fill="#ccbd80" stroke="#2b2b2b" stroke-width="0.8"/>
<line x1="557.90" y1="269.30" x2="567.40" y2="269.30" stroke="#222" stroke-width="0.8" />
<path d="M584.50,256.80 V261.72 M584.50,284.85 V292.23 M581.41,256.80 H587.59 M581.41,292.23 H587.59" stroke="#262626" stroke-width="0.9" fill="none"/>
<rect x="579.20" y="261.72" width="10.30" height="23.12" fill="#629582" stroke="#2b2b2b" stroke-width="0.8"/>
<line x1="579.20" y1="276.09" x2="589.50" y2="276.09" stroke="#222" stroke-width="0.8" />
<circle cx="540.60" cy="280.91" r="1.35" fill="none" stroke="#333" stroke-width="0.65"/>
<circle cx="562.60" cy="308.96" r="1.35" fill="none" stroke="#333" stroke-width="0.65"/>
<circle cx="562.60" cy="235.30" r="1.35" fill="none" stroke="#333" stroke-width="0.65"/>
<circle cx="562.60" cy="238.00" r="1.35" fill="none" stroke="#333" stroke-width="0.65"/>
<line x1="546.10" y1="217.00" x2="585.90" y2="217.00" stroke="#bbb" stroke-width="1.4" />
<polygon points="561.10,211.65 561.66,212.83 562.95,213.00 562.00,213.89 562.25,215.18 561.10,214.55 559.95,215.18 560.20,213.89 559.25,213.00 560.54,212.83" fill="#000" stroke="#000" stroke-width="0.35" stroke-linejoin="round"/>
<polygon points="565.30,211.65 565.86,212.83 567.15,213.00 566.20,213.89 566.45,215.18 565.30,214.55 564.15,215.18 564.40,213.89 563.45,213.00 564.74,212.83" fill="#000" stroke="#000" stroke-width="0.35" stroke-linejoin="round"/>
<polygon points="569.50,211.65 570.06,212.83 571.35,213.00 570.40,213.89 570.65,215.18 569.50,214.55 568.35,215.18 568.60,213.89 567.65,213.00 568.94,212.83" fill="#000" stroke="#000" stroke-width="0.35" stroke-linejoin="round"/>
<line x1="546.10" y1="227.30" x2="566.80" y2="227.30" stroke="#444" stroke-width="0.9" />
<polygon points="552.20,222.25 552.76,223.43 554.05,223.60 553.10,224.49 553.35,225.78 552.20,225.15 551.05,225.78 551.30,224.49 550.35,223.60 551.64,223.43" fill="#000" stroke="#000" stroke-width="0.35" stroke-linejoin="round"/>
<polygon points="556.60,222.25 557.16,223.43 558.45,223.60 557.50,224.49 557.75,225.78 556.60,225.15 555.45,225.78 555.70,224.49 554.75,223.60 556.04,223.43" fill="#000" stroke="#000" stroke-width="0.35" stroke-linejoin="round"/>
<polygon points="561.00,222.25 561.56,223.43 562.85,223.60 561.90,224.49 562.15,225.78 561.00,225.15 559.85,225.78 560.10,224.49 559.15,223.60 560.44,223.43" fill="#000" stroke="#000" stroke-width="0.35" stroke-linejoin="round"/>
<line x1="543.60" y1="321.30" x2="543.60" y2="323.50" stroke="#888" stroke-width="0.7" />
<line x1="562.60" y1="321.30" x2="562.60" y2="323.50" stroke="#888" stroke-width="0.7" />
<line x1="581.40" y1="321.30" x2="581.40" y2="323.50" stroke="#888" stroke-width="0.7" />
<text x="544.31" y="333.70" font-size="6.0" text-anchor="middle" fill="#222" stroke="#222" stroke-width="0.22" transform="rotate(-22 544.31 333.70)">PD_FOG</text>
<text x="563.41" y="334.00" font-size="6.0" text-anchor="middle" fill="#222" stroke="#222" stroke-width="0.22" transform="rotate(-22 563.41 334.00)">PD_nFOG</text>
<text x="582.01" y="330.70" font-size="6.0" text-anchor="middle" fill="#222" stroke="#222" stroke-width="0.22" transform="rotate(-22 582.01 330.70)">HC</text>
<rect x="624.3" y="209.7" width="59.200000000000045" height="111.60000000000002" fill="none" stroke="#aaa" stroke-width="0.8"/>
<line x1="622.70" y1="315.68" x2="624.30" y2="315.68" stroke="#555" stroke-width="0.8" />
<text x="621.80" y="317.78" font-size="6.0" text-anchor="end" fill="#222" stroke="#222" stroke-width="0.1">&#8722;4</text>
<line x1="622.70" y1="299.24" x2="624.30" y2="299.24" stroke="#555" stroke-width="0.8" />
<text x="621.80" y="301.34" font-size="6.0" text-anchor="end" fill="#222" stroke="#222" stroke-width="0.1">&#8722;2</text>
<line x1="622.70" y1="282.80" x2="624.30" y2="282.80" stroke="#555" stroke-width="0.8" />
<text x="621.80" y="284.90" font-size="6.0" text-anchor="end" fill="#222" stroke="#222" stroke-width="0.1">0</text>
<line x1="622.70" y1="266.36" x2="624.30" y2="266.36" stroke="#555" stroke-width="0.8" />
<text x="621.80" y="268.46" font-size="6.0" text-anchor="end" fill="#222" stroke="#222" stroke-width="0.1">2</text>
<line x1="622.70" y1="249.92" x2="624.30" y2="249.92" stroke="#555" stroke-width="0.8" />
<text x="621.80" y="252.02" font-size="6.0" text-anchor="end" fill="#222" stroke="#222" stroke-width="0.1">4</text>
<line x1="622.70" y1="233.48" x2="624.30" y2="233.48" stroke="#555" stroke-width="0.8" />
<text x="621.80" y="235.58" font-size="6.0" text-anchor="end" fill="#222" stroke="#222" stroke-width="0.1">6</text>
<line x1="622.70" y1="217.04" x2="624.30" y2="217.04" stroke="#555" stroke-width="0.8" />
<text x="621.80" y="219.14" font-size="6.0" text-anchor="end" fill="#222" stroke="#222" stroke-width="0.1">8</text>
<text x="611.71" y="265.90" font-size="5.85" text-anchor="middle" font-weight="bold" fill="#111" transform="rotate(-90 611.71 265.90)" textLength="70.6" lengthAdjust="spacingAndGlyphs">MFT Error Rate Cost (ms)</text>
<path d="M631.50,221.97 V240.06 M631.50,274.58 V291.02 M628.53,221.97 H634.47 M628.53,291.02 H634.47" stroke="#262626" stroke-width="0.9" fill="none"/>
<rect x="626.20" y="240.06" width="9.90" height="34.52" fill="#bf7762" stroke="#2b2b2b" stroke-width="0.8"/>
<line x1="626.20" y1="257.32" x2="636.10" y2="257.32" stroke="#222" stroke-width="0.8" />
<path d="M653.50,257.32 V265.54 M653.50,282.80 V300.06 M650.56,257.32 H656.44 M650.56,300.06 H656.44" stroke="#262626" stroke-width="0.9" fill="none"/>
<rect x="649.00" y="265.54" width="9.80" height="17.26" fill="#ccbd80" stroke="#2b2b2b" stroke-width="0.8"/>
<line x1="649.00" y1="282.80" x2="658.80" y2="282.80" stroke="#222" stroke-width="0.8" />
<path d="M677.50,274.58 V278.69 M677.50,282.80 V282.80 M674.56,274.58 H680.44 M674.56,282.80 H680.44" stroke="#262626" stroke-width="0.9" fill="none"/>
<rect x="672.20" y="278.69" width="9.80" height="4.11" fill="#629582" stroke="#2b2b2b" stroke-width="0.8"/>
<line x1="672.20" y1="280.75" x2="682.00" y2="280.75" stroke="#222" stroke-width="0.8" />
<circle cx="654.10" cy="240.06" r="1.35" fill="none" stroke="#333" stroke-width="0.65"/>
<circle cx="677.00" cy="257.32" r="1.35" fill="none" stroke="#333" stroke-width="0.65"/>
<circle cx="677.00" cy="265.54" r="1.35" fill="none" stroke="#333" stroke-width="0.65"/>
<circle cx="677.00" cy="291.02" r="1.35" fill="none" stroke="#333" stroke-width="0.65"/>
<circle cx="677.00" cy="308.28" r="1.35" fill="none" stroke="#333" stroke-width="0.65"/>
<line x1="633.00" y1="217.70" x2="671.90" y2="217.70" stroke="#999" stroke-width="1.1" />
<polygon points="649.50,212.25 650.06,213.43 651.35,213.60 650.40,214.49 650.65,215.78 649.50,215.15 648.35,215.78 648.60,214.49 647.65,213.60 648.94,213.43" fill="#000" stroke="#000" stroke-width="0.35" stroke-linejoin="round"/>
<polygon points="653.90,212.25 654.46,213.43 655.75,213.60 654.80,214.49 655.05,215.78 653.90,215.15 652.75,215.78 653.00,214.49 652.05,213.60 653.34,213.43" fill="#000" stroke="#000" stroke-width="0.35" stroke-linejoin="round"/>
<line x1="633.00" y1="228.40" x2="653.50" y2="228.40" stroke="#444" stroke-width="0.9" />
<polygon points="643.00,222.85 643.56,224.03 644.85,224.20 643.90,225.09 644.15,226.38 643.00,225.75 641.85,226.38 642.10,225.09 641.15,224.20 642.44,224.03" fill="#000" stroke="#000" stroke-width="0.35" stroke-linejoin="round"/>
<line x1="634.30" y1="321.30" x2="634.30" y2="323.50" stroke="#888" stroke-width="0.7" />
<line x1="654.30" y1="321.30" x2="654.30" y2="323.50" stroke="#888" stroke-width="0.7" />
<line x1="673.50" y1="321.30" x2="673.50" y2="323.50" stroke="#888" stroke-width="0.7" />
<text x="635.21" y="333.70" font-size="6.0" text-anchor="middle" fill="#222" stroke="#222" stroke-width="0.22" transform="rotate(-22 635.21 333.70)">PD_FOG</text>
<text x="654.61" y="334.00" font-size="6.0" text-anchor="middle" fill="#222" stroke="#222" stroke-width="0.22" transform="rotate(-22 654.61 334.00)">PD_nFOG</text>
<text x="674.31" y="330.70" font-size="6.0" text-anchor="middle" fill="#222" stroke="#222" stroke-width="0.22" transform="rotate(-22 674.31 330.70)">HC</text>
</svg></body></html>
